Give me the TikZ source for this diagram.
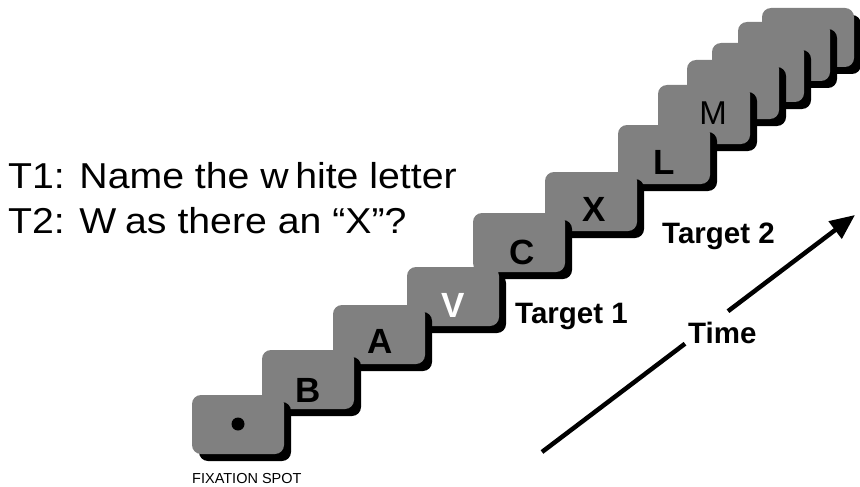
\documentclass[tikz,border=0pt]{standalone}
\usepackage{fontspec}
\usepackage{graphicx}
\setmainfont{Liberation Sans}
\usetikzlibrary{arrows.meta,shadows}
\definecolor{cardgray}{RGB}{128,128,128}
\begin{document}
\begin{tikzpicture}[x=1pt,y=-1pt,
  card/.style={rectangle, rounded corners=9pt, minimum width=92pt,
    minimum height=59pt, inner sep=0pt, fill=cardgray, draw=none,
    drop shadow={shadow xshift=7pt, shadow yshift=-7pt, fill=black, opacity=1}},
  lett/.style={inner sep=0pt, font=\fontsize{35}{35}\selectfont\bfseries},
  lettreg/.style={inner sep=0pt, font=\fontsize{33}{33}\selectfont},
  task/.style={inner sep=0pt, anchor=base west, font=\fontsize{36}{40}\selectfont},
  tag/.style={inner sep=0pt, anchor=base west, font=\fontsize{29.5}{32}\selectfont\bfseries},
  timeline/.style={line width=4.5pt}
]
\useasboundingbox (0,0) rectangle (860,487);

% stimulus frames, drawn from the last (back) to the first (front)
\node[card] (c11) at (808,37.5) {};
\node[card] (c10) at (784,51.5) {};
\node[card] (c9)  at (758,72.5) {};
\node[card] (c8)  at (733,89.5) {};
\node[card] (c7)  at (704,114.5) {};
\node[card] (c6)  at (664,154.5) {};
\node[card] (c5)  at (591,201.5) {};
\node[card] (c4)  at (519,242.5) {};
\node[card] (c3)  at (453,296.5) {};
\node[card] (c2)  at (379,334.5) {};
\node[card] (c1)  at (308,379.5) {};
\node[card] (c0)  at (238,424.5) {};

% letters on the frames
\fill (238,424) circle (6.5pt);
\node[lett] (lB) at (308,390) {B};
\node[lett] (lA) at (380.5,341) {A};
\node[lett, text=white] (lV) at (453,305) {V};
\node[lett] (lC) at (522,252) {C};
\node[lett] (lX) at (594,209) {X};
\node[lett] (lL) at (664,162) {L};
\node[lettreg] (lM) at (713,113) {M};

% task instructions
\node[task] (t1) at (8,188) {\scalebox{1.09}[1]{T1: Name the w\kern6pt hite letter}};
\node[task] (t2) at (8,233) {\scalebox{1.09}[1]{T2: W\kern8pt as there an “X”?}};

% labels
\node[tag] (tg1) at (515,323) {Target 1};
\node[tag] (tg2) at (662,243) {Target 2};
\node[tag] (tm) at (688,343) {Time};
\node[inner sep=0pt, anchor=base west, font=\fontsize{14.5}{15}\selectfont] (fx) at (192,483) {FIXATION SPOT};

% time arrow, broken around its label
\coordinate (a0) at (542,452);
\coordinate (a1) at (685,343.7);
\coordinate (a2) at (728,311.2);
\coordinate (a3) at (855,215);
\draw[timeline] (a0) -- (a1);
\draw[timeline, -{Triangle[length=25pt,width=21pt]}] (a2) -- (a3);
\end{tikzpicture}
\end{document}
